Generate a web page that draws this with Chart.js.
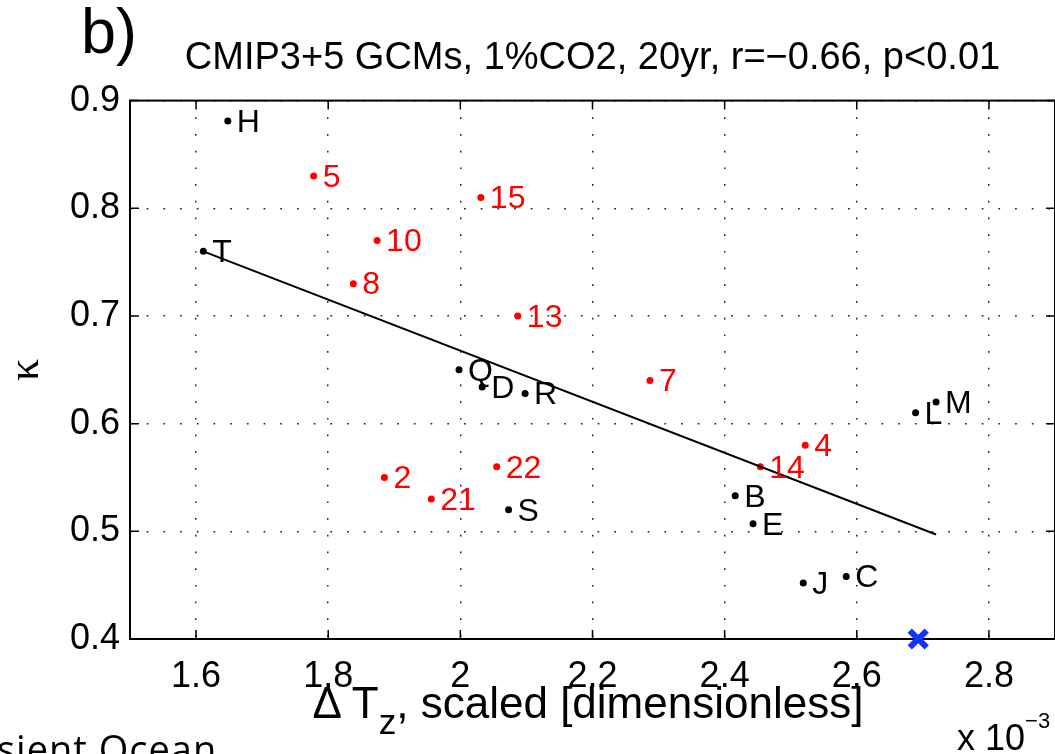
<!DOCTYPE html>
<html>
<head>
<meta charset="utf-8">
<script src="https://cdn.jsdelivr.net/npm/chart.js@4/dist/chart.umd.min.js"></script>
<style>
html,body{margin:0;padding:0;background:#fff;}
#wrap{position:relative;width:1055px;height:754px;overflow:hidden;font-family:"Liberation Sans",Arial,sans-serif;color:#000;}
#wrap canvas{position:absolute;left:0;top:0;}
.t{position:absolute;line-height:1;white-space:nowrap;}
#panel{left:81px;top:0px;font-size:63px;}
#xlab{left:588px;top:681px;font-size:44px;transform:translateX(-50%);}
#xlab .sub{position:relative;top:0.45em;font-size:0.8em;}
#mult{left:957px;top:720px;font-size:36px;}
#mult .sup{position:relative;top:-22px;font-size:22px;}
#foot{left:-3px;top:729px;font-size:38px;font-family:"Open Sans",sans-serif;letter-spacing:1px;}
</style>
</head>
<body>
<div id="wrap">
<canvas id="myChart" width="1055" height="754"></canvas>
<div class="t" id="panel">b)</div>
<div class="t" id="xlab">Δ T<span class="sub">z</span>, scaled [dimensionless]</div>
<div class="t" id="mult">x 10<span class="sup">−3</span></div>
<div class="t" id="foot">sient Ocean</div>
</div>
<script>
// CMIP3 models (letters, black)
const cmip3Names = ['H','T','Q','D','R','S','B','E','J','C','L','M'];
const cmip3X = [1.648,1.611,1.998,2.033,2.098,2.073,2.416,2.443,2.519,2.584,2.689,2.720];
const cmip3Y = [0.881,0.760,0.650,0.634,0.628,0.520,0.533,0.507,0.452,0.458,0.610,0.620];

// CMIP5 models (numbers, red)
const cmip5Names = ['5','15','10','8','13','7','4','14','22','2','21'];
const cmip5X = [1.778,2.031,1.874,1.838,2.087,2.287,2.522,2.454,2.055,1.885,1.956];
const cmip5Y = [0.830,0.810,0.770,0.730,0.700,0.640,0.580,0.560,0.560,0.550,0.530];

// regression line end points
const fitX = [1.611, 2.720];
const fitY = [0.760, 0.497];

// observation (blue cross)
const obsX = [2.693];
const obsY = [0.400];

const xTicks = [1.6,1.8,2.0,2.2,2.4,2.6,2.8];
const xTickLabels = ['1.6','1.8','2','2.2','2.4','2.6','2.8'];
const yTicks = [0.4,0.5,0.6,0.7,0.8,0.9];
const yTickLabels = ['0.4','0.5','0.6','0.7','0.8','0.9'];

const FONT = '"Liberation Sans", Arial, sans-serif';

function pts(xs, ys){
    return xs.map((x,i) => ({x:x, y:ys[i]}));
}

// names next to each dot
const pointNames = {
    id:'pointNames',
    afterDatasetsDraw(chart){
        const ctx = chart.ctx;
        chart.data.datasets.forEach((ds,i) => {
            if(!ds.names) return;
            const meta = chart.getDatasetMeta(i);
            ctx.save();
            ctx.font = '32px ' + FONT;
            ctx.fillStyle = ds.labelColor;
            ctx.textBaseline = 'middle';
            meta.data.forEach((p,j) => ctx.fillText(ds.names[j], p.x + 9, p.y + 2));
            ctx.restore();
        });
    }
};

// matlab style box with inward ticks
const matlabBox = {
    id:'matlabBox',
    beforeDatasetsDraw(chart){
        const ctx = chart.ctx, a = chart.chartArea;
        const xs = chart.scales.x, ys = chart.scales.y;
        ctx.save();
        ctx.strokeStyle = '#000';
        ctx.lineWidth = 2;
        ctx.strokeRect(a.left, a.top, a.right - a.left, a.bottom - a.top);
        ctx.lineWidth = 1.5;
        ctx.beginPath();
        xTicks.forEach(v => {
            const px = xs.getPixelForValue(v);
            ctx.moveTo(px, a.bottom); ctx.lineTo(px, a.bottom - 9);
            ctx.moveTo(px, a.top); ctx.lineTo(px, a.top + 9);
        });
        yTicks.forEach(v => {
            const py = ys.getPixelForValue(v);
            ctx.moveTo(a.left, py); ctx.lineTo(a.left + 9, py);
            ctx.moveTo(a.right, py); ctx.lineTo(a.right - 9, py);
        });
        ctx.stroke();
        ctx.restore();
    }
};

const data = {
    datasets:[
        {
            type:'line',
            data:pts(fitX, fitY),
            borderColor:'#000',
            borderWidth:2,
            pointRadius:0,
            fill:false
        },
        {
            data:pts(cmip3X, cmip3Y),
            names:cmip3Names,
            labelColor:'#000',
            backgroundColor:'#000',
            borderWidth:0,
            pointRadius:3.5
        },
        {
            data:pts(cmip5X, cmip5Y),
            names:cmip5Names,
            labelColor:'#ff0000',
            backgroundColor:'#ff0000',
            borderWidth:0,
            pointRadius:3.5
        },
        {
            data:pts(obsX, obsY),
            pointStyle:'crossRot',
            pointRadius:12,
            borderColor:'#1433ff',
            borderWidth:6,
            clip:false
        }
    ]
};

const config = {
    type:'scatter',
    data,
    options:{
        responsive:false,
        animation:false,
        events:[],
        layout:{padding:0, autoPadding:false},
        plugins:{
            legend:{display:false},
            tooltip:{enabled:false},
            title:{
                display:true,
                fullSize:false,
                text:'CMIP3+5 GCMs, 1%CO2, 20yr, r=\u22120.66, p<0.01',
                color:'#000',
                font:{family:FONT, size:38, weight:'normal', lineHeight:1.2},
                padding:{top:36, bottom:19}
            }
        },
        scales:{
            x:{
                type:'linear',
                min:1.5,
                max:2.9,
                afterBuildTicks: s => { s.ticks = xTicks.map(v => ({value:v})); },
                afterFit: s => { s.height = 115; },
                ticks:{
                    callback: (v) => xTickLabels[xTicks.indexOf(v)],
                    color:'#000',
                    font:{family:FONT, size:36},
                    padding:16,
                    maxRotation:0,
                    autoSkip:false
                },
                grid:{color:'#222', lineWidth:1.5, drawTicks:false},
                border:{display:false, dash:[1.7,15]}
            },
            y:{
                type:'linear',
                min:0.4,
                max:0.9,
                afterBuildTicks: s => { s.ticks = yTicks.map(v => ({value:v})); },
                afterFit: s => { s.width = 130; },
                ticks:{
                    callback: (v) => yTickLabels[yTicks.indexOf(v)],
                    color:'#000',
                    font:{family:FONT, size:36},
                    padding:10,
                    autoSkip:false
                },
                grid:{color:'#222', lineWidth:1.5, drawTicks:false},
                border:{display:false, dash:[1.7,15]},
                title:{
                    display:true,
                    text:'\u03ba',
                    color:'#000',
                    font:{family:'"Liberation Serif", serif', size:44, lineHeight:1.2},
                    padding:0
                }
            }
        }
    },
    plugins:[matlabBox, pointNames]
};

const myChart = new Chart(document.getElementById('myChart'), config);
</script>
</body>
</html>
